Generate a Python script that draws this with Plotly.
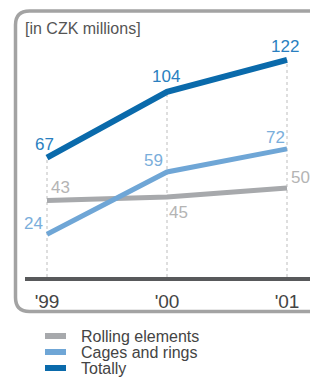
import plotly.graph_objects as go

years = ["'99", "'00", "'01"]
rolling = [43, 45, 50]
cages = [24, 59, 72]
totally = [67, 104, 122]
series_names = ["Rolling elements", "Cages and rings", "Totally"]

W, H = 310, 387
# target pixel geometry in the screenshot
PLOT_LEFT, PLOT_RIGHT, PLOT_TOP, PLOT_BOTTOM = 25, 310, 40, 277
L = PLOT_LEFT
T = PLOT_TOP
R = W - PLOT_RIGHT
B = H - PLOT_BOTTOM
PW, PH = W - L - R, H - T - B
UNIT_X = 120.0   # px per year step
UNIT_Y = 1.78    # px per CZK million

def px_x(p):
    return (p - PLOT_LEFT) / PW

def px_y(p):
    return (PLOT_BOTTOM - p) / PH

FONT = "Liberation Sans Narrow, Arial Narrow, sans-serif"
xs = list(range(len(years)))

fig = go.Figure()

# dotted guides from baseline to total
gx, gy = [], []
for i, t in zip(xs, totally):
    gx += [i, i, None]
    gy += [0, t, None]
fig.add_trace(go.Scatter(x=gx, y=gy, mode="lines", showlegend=False, hoverinfo="skip",
                         line=dict(color="#bdbdbd", width=1, dash="dot")))

colors = ["#a7a9ac", "#6fa6d6", "#0a6aab"]
text_colors = ["#b4b4b4", "#7aaedb", "#2a7fc0"]
widths = [5, 5, 6]
# label offsets (px) relative to each point: (dx, dy) with dy upward positive
offsets = [[(13, 13), (11, -16), (13, 11)],
           [(-14, 11), (-14, 11), (-12, 11)],
           [(-3, 13), (-1, 15), (-2, 13)]]

for name, vals, c, w in zip(series_names, [rolling, cages, totally], colors, widths):
    fig.add_trace(go.Scatter(x=xs, y=vals, name=name, mode="lines", showlegend=False,
                             line=dict(color=c, width=w), hoverinfo="x+y"))

for vals, tc, offs in zip([rolling, cages, totally], text_colors, offsets):
    for i, v, (dx, dy) in zip(xs, vals, offs):
        fig.add_annotation(x=i, y=v, text=str(v), showarrow=False,
                           xshift=dx, yshift=dy, xanchor="center", yanchor="middle",
                           font=dict(family=FONT, size=17, color=tc))

# rounded frame (right side runs past the visible edge)
x0, x1 = px_x(15.5), px_x(345)
y0, y1 = px_y(311.5), px_y(11)
rx, ry = 14 / PW, 14 / PH
path = (f"M {x0+rx},{y1} L {x1-rx},{y1} Q {x1},{y1} {x1},{y1-ry} L {x1},{y0+ry} "
        f"Q {x1},{y0} {x1-rx},{y0} L {x0+rx},{y0} Q {x0},{y0} {x0},{y0+ry} "
        f"L {x0},{y1-ry} Q {x0},{y1} {x0+rx},{y1} Z")
fig.add_shape(type="path", path=path, xref="paper", yref="paper",
              line=dict(color="#a3a3a3", width=3.5), layer="below")

fig.add_annotation(text="[in CZK millions]", xref="paper", yref="paper",
                   x=px_x(23), y=px_y(28.5), xanchor="left", yanchor="middle",
                   showarrow=False, font=dict(family=FONT, size=16, color="#555555"))

# legend (drawn manually for exact spacing)
for k, (name, c) in enumerate(zip(series_names, colors)):
    yy = px_y(336 + 16 * k)
    fig.add_shape(type="line", xref="paper", yref="paper",
                  x0=px_x(45), x1=px_x(66), y0=yy, y1=yy,
                  line=dict(color=c, width=6))
    fig.add_annotation(text=name, xref="paper", yref="paper", x=px_x(79), y=yy,
                       xanchor="left", yanchor="middle", showarrow=False,
                       font=dict(family=FONT, size=16, color="#444444"))

fig.update_layout(
    width=W, height=H, margin=dict(l=L, r=R, t=T, b=B, autoexpand=False),
    paper_bgcolor="white", plot_bgcolor="white",
    font=dict(family=FONT, color="#444444"),
    xaxis=dict(range=[-22 / UNIT_X, -22 / UNIT_X + PW / UNIT_X], tickvals=xs, ticktext=years,
               showgrid=False, zeroline=False, showline=True, linecolor="#58595b", linewidth=4,
               ticks="", ticklabelstandoff=4, tickfont=dict(family=FONT, size=19, color="#444444"),
               fixedrange=True),
    yaxis=dict(range=[0, PH / UNIT_Y], visible=False, fixedrange=True),
    showlegend=False,
)

fig.write_html("out.html", config={"displayModeBar": False},
               post_script="document.body.style.margin='0';document.body.style.overflow='hidden';")
